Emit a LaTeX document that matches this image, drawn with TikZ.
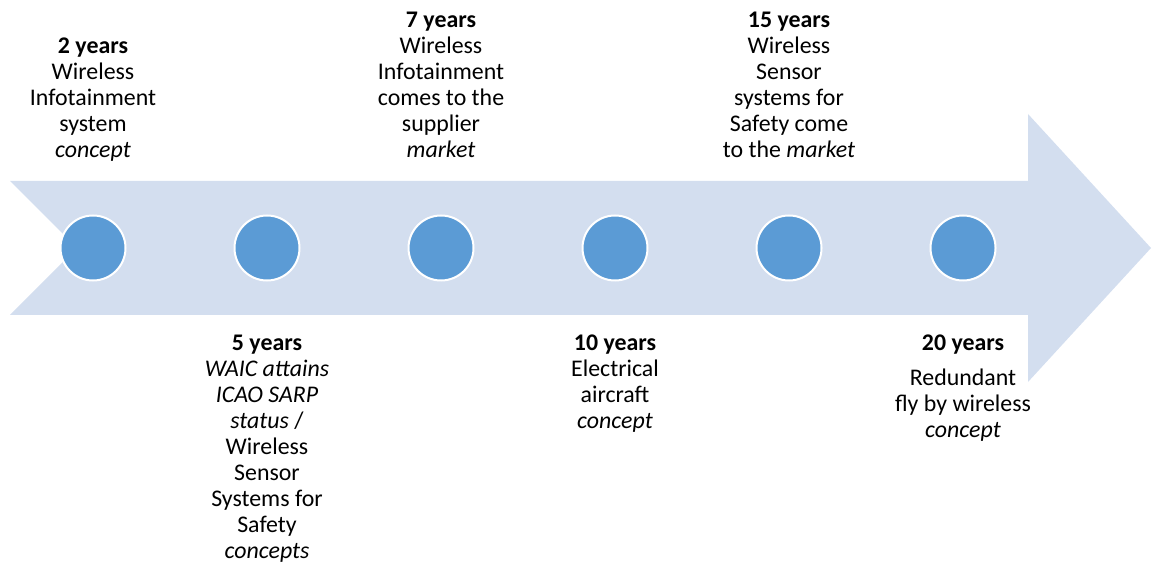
\documentclass[tikz,border=0pt]{standalone}
\usepackage{fontspec}
\setmainfont{Carlito}
\usepackage{tikz}
\usetikzlibrary{positioning}

\begin{document}
\begin{tikzpicture}[x=0.75pt,y=0.75pt,yscale=-1,xscale=1,
    dot/.style={circle,minimum size=48.75pt,inner sep=0pt,fill={rgb, 255:red, 91; green, 155; blue, 213 },draw=white,line width=1.5pt},
    lbl/.style={align=center,inner sep=0pt,font=\fontsize{17.9}{19.5}\selectfont}]
    %set diagram size
    \useasboundingbox (0,0) rectangle (1152,566);

    %Shape: Arrow
    \fill [color={rgb, 255:red, 211; green, 222; blue, 239 }] (10,181) -- (1028,181) -- (1028,114) -- (1151,248) -- (1028,382) -- (1028,315) -- (10,315) -- (77,248) -- cycle ;

    %Shape: Circle
    \node [dot] (c2) at (93,248) {};
    %Shape: Circle
    \node [dot] (c5) at (267,248) {};
    %Shape: Circle
    \node [dot] (c7) at (441,248) {};
    %Shape: Circle
    \node [dot] (c10) at (615,248) {};
    %Shape: Circle
    \node [dot] (c15) at (789,248) {};
    %Shape: Circle
    \node [dot] (c20) at (963,248) {};

    %Text above
    \node [lbl,anchor=base] (t2) at (93,158) {\textbf{2 years}\\Wireless\\Infotainment\\system\\\textit{concept}};
    \node [lbl,anchor=base] (t7) at (441,158) {\textbf{7 years}\\Wireless\\Infotainment\\comes to the\\supplier\\\textit{market}};
    \node [lbl,anchor=base] (t15) at (789,158) {\textbf{15 years}\\Wireless\\Sensor\\systems for\\Safety come\\to the \textit{market}};

    %Text below
    \node [lbl,anchor=north] (t5) at (267,335) {\textbf{5 years}\\\textit{WAIC attains}\\\textit{ICAO SARP}\\\textit{status} /\\Wireless\\Sensor\\Systems for\\Safety\\\textit{concepts}};
    \node [lbl,anchor=north] (t10) at (615,335) {\textbf{10 years}\\Electrical\\aircraft\\\textit{concept}};
    \node [lbl,anchor=north] (t20) at (963,335) {\textbf{20 years}\\[6.75pt]Redundant\\fly by wireless\\\textit{concept}};
\end{tikzpicture}
\end{document}
